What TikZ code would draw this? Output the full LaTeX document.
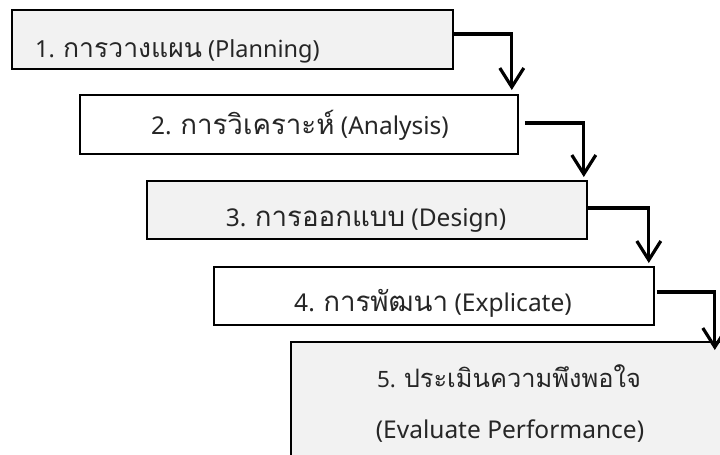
\documentclass[tikz,border=0pt]{standalone}
\usepackage{fontspec}
\setmainfont{Noto Sans}
\newfontfamily\thai[Script=Thai,Scale=1.13]{Loma}
\usetikzlibrary{arrows.meta}
\definecolor{boxgray}{HTML}{F2F2F2}
\begin{document}
\begin{tikzpicture}[x=1pt,y=-1pt,
  box/.style={draw=black, line width=1.8pt, inner sep=0pt, anchor=north west, minimum height=59pt},
  gbox/.style={box, fill=boxgray},
  wbox/.style={box, fill=white},
  lbl/.style={font=\fontsize{24.5}{29}\selectfont, text=black!85, inner sep=0pt, anchor=base},
  conn/.style={line width=3.2pt, -{Straight Barb[length=19pt,width=24pt,line width=3.2pt]}}]
\useasboundingbox[fill=white] (0,0) rectangle (720,455);
\node[gbox, minimum width=441pt] (b1) at (11,9) {};
\node[wbox, minimum width=438pt] (b2) at (79,94) {};
\node[gbox, minimum width=440pt, minimum height=58pt] (b3) at (146,180) {};
\node[wbox, minimum width=440pt, minimum height=58pt] (b4) at (213,266) {};
\node[gbox, minimum width=440pt, minimum height=140pt] (b5) at (290,341) {};
\node[lbl, anchor=base west, font=\fontsize{23.5}{28}\selectfont] (t1) at (35,57) {1. {\thai การวางแผน} (Planning)};
\node[lbl] (t2) at (300,134) {2. {\thai การวิเคราะห์} (Analysis)};
\node[lbl] (t3) at (366,226) {3. {\thai การออกแบบ} (Design)};
\node[lbl] (t4) at (433,311) {4. {\thai การพัฒนา} (Explicate)};
\node[lbl, font=\fontsize{22.5}{27}\selectfont] (t5a) at (509,387) {5. {\thai ประเมินความพึงพอใจ}};
\node[lbl] (t5b) at (510,438) {(Evaluate Performance)};
\draw[conn] ([yshift=5.5pt]b1.east) -| ([xshift=-7pt,yshift=4pt]b2.north east);
\draw[conn] ([xshift=6pt,yshift=1.5pt]b2.east) -| ([xshift=-4pt,yshift=3pt]b3.north east);
\draw[conn] ([yshift=2pt]b3.east) -| ([xshift=-6pt,yshift=3pt]b4.north east);
\draw[conn] ([xshift=2pt,yshift=4pt]b4.east) -| ([xshift=-17pt,yshift=-9pt]b5.north east);
\end{tikzpicture}
\end{document}
